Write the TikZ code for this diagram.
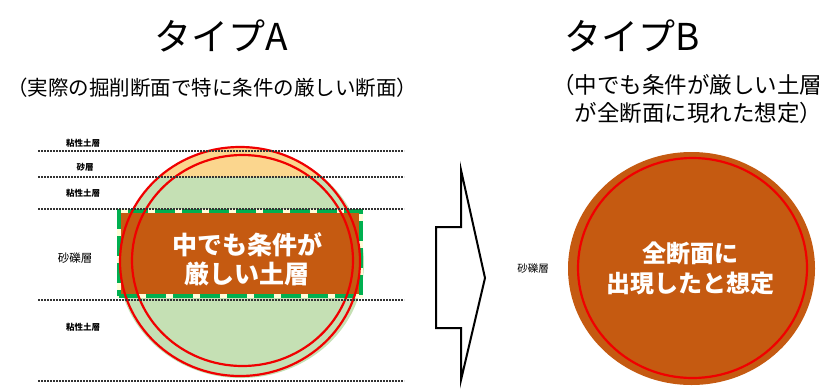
\documentclass[tikz,border=0pt]{standalone}
\usepackage{fontspec}
\setmainfont{Noto Sans CJK JP}

\definecolor{suelomarron}{HTML}{C55A11}
\definecolor{arcillaverde}{HTML}{C5E0B4}
\definecolor{arenanaranja}{HTML}{FBD68E}
\definecolor{bandaverde}{HTML}{00B050}
\definecolor{anillorojo}{HTML}{F00000}

\tikzset{
  capa/.style={line width=1.1pt, black!80, dash pattern=on 2pt off 1pt},
  nombrecapa/.style={font=\bfseries\fontsize{8.5}{9}\selectfont, inner sep=0pt},
  anillo/.style={anillorojo, line width=2.2pt},
  titulo/.style={font=\fontsize{37}{40}\selectfont},
  textogrande/.style={white, font=\bfseries\fontsize{25}{29}\selectfont, align=center},
}

\begin{document}
\begin{tikzpicture}[x=1pt,y=-1pt]
	\useasboundingbox (0,0) rectangle (832,389);

	% Títulos
	\node[titulo] (tituloA) at (221,36) {タイプA};
	\node[titulo] (tituloB) at (632,36) {タイプB};
	\node[font=\fontsize{20.5}{24}\selectfont] (subA) at (212,88) {（実際の掘削断面で特に条件の厳しい断面）};
	\node[font=\fontsize{22.5}{28}\selectfont, align=left, anchor=west, inner sep=0pt] (subB) at (552,99)
		{（中でも条件が厳しい土層\\　が全断面に現れた想定）};

	% Tipo A: relleno del círculo
	\begin{scope}
		\clip (241,263) ellipse [x radius=123, y radius=115];
		\fill[arcillaverde] (100,140) rectangle (380,390);
		\fill[arenanaranja] (100,140) rectangle (380,177);
	\end{scope}

	% Capa crítica
	\node[fill=suelomarron, draw=white!85!yellow, line width=4pt,
		minimum width=242, minimum height=85, inner sep=0pt,
		postaction={draw=bandaverde, line width=4pt, dash pattern=on 20pt off 7pt}] (banda) at (240,253.5) {};
	\node[textogrande] (textoA) at (247,259) {中でも条件が\\厳しい土層};

	% Anillos
	\draw[anillo] (240,261.5) ellipse [x radius=120, y radius=114.5];
	\draw[anillo] (242.5,260.5) ellipse [x radius=110.5, y radius=105.5];

	% Límites de capas
	\foreach \y in {151,177,209,300,381}
		\draw[capa] (38,\y) -- (404,\y);

	\node[nombrecapa] (c1) at (83,143) {粘性土層};
	\node[nombrecapa] (c2) at (85,167) {砂層};
	\node[nombrecapa] (c3) at (83,193) {粘性土層};
	\node[font=\fontsize{11.5}{12}\selectfont, inner sep=0pt] (c4) at (75,258) {砂礫層};
	\node[nombrecapa] (c5) at (83,327) {粘性土層};

	% Flecha
	\draw[line width=2pt, miter limit=20] (436,227) -- (461,227) -- (461,170) -- (485,278)
		-- (461,380) -- (461,328) -- (436,328) -- cycle;

	% Tipo B
	\node[font=\fontsize{10.5}{11}\selectfont, inner sep=0pt] (cB) at (533,268) {砂礫層};
	\fill[suelomarron] (691.5,268.5) ellipse [x radius=123.5, y radius=116.5];
	\draw[anillo] (692.5,268) ellipse [x radius=114.5, y radius=110];
	\node[textogrande, font=\bfseries\fontsize{24}{30}\selectfont] (textoB) at (690,268) {全断面に\\出現したと想定};
\end{tikzpicture}
\end{document}
